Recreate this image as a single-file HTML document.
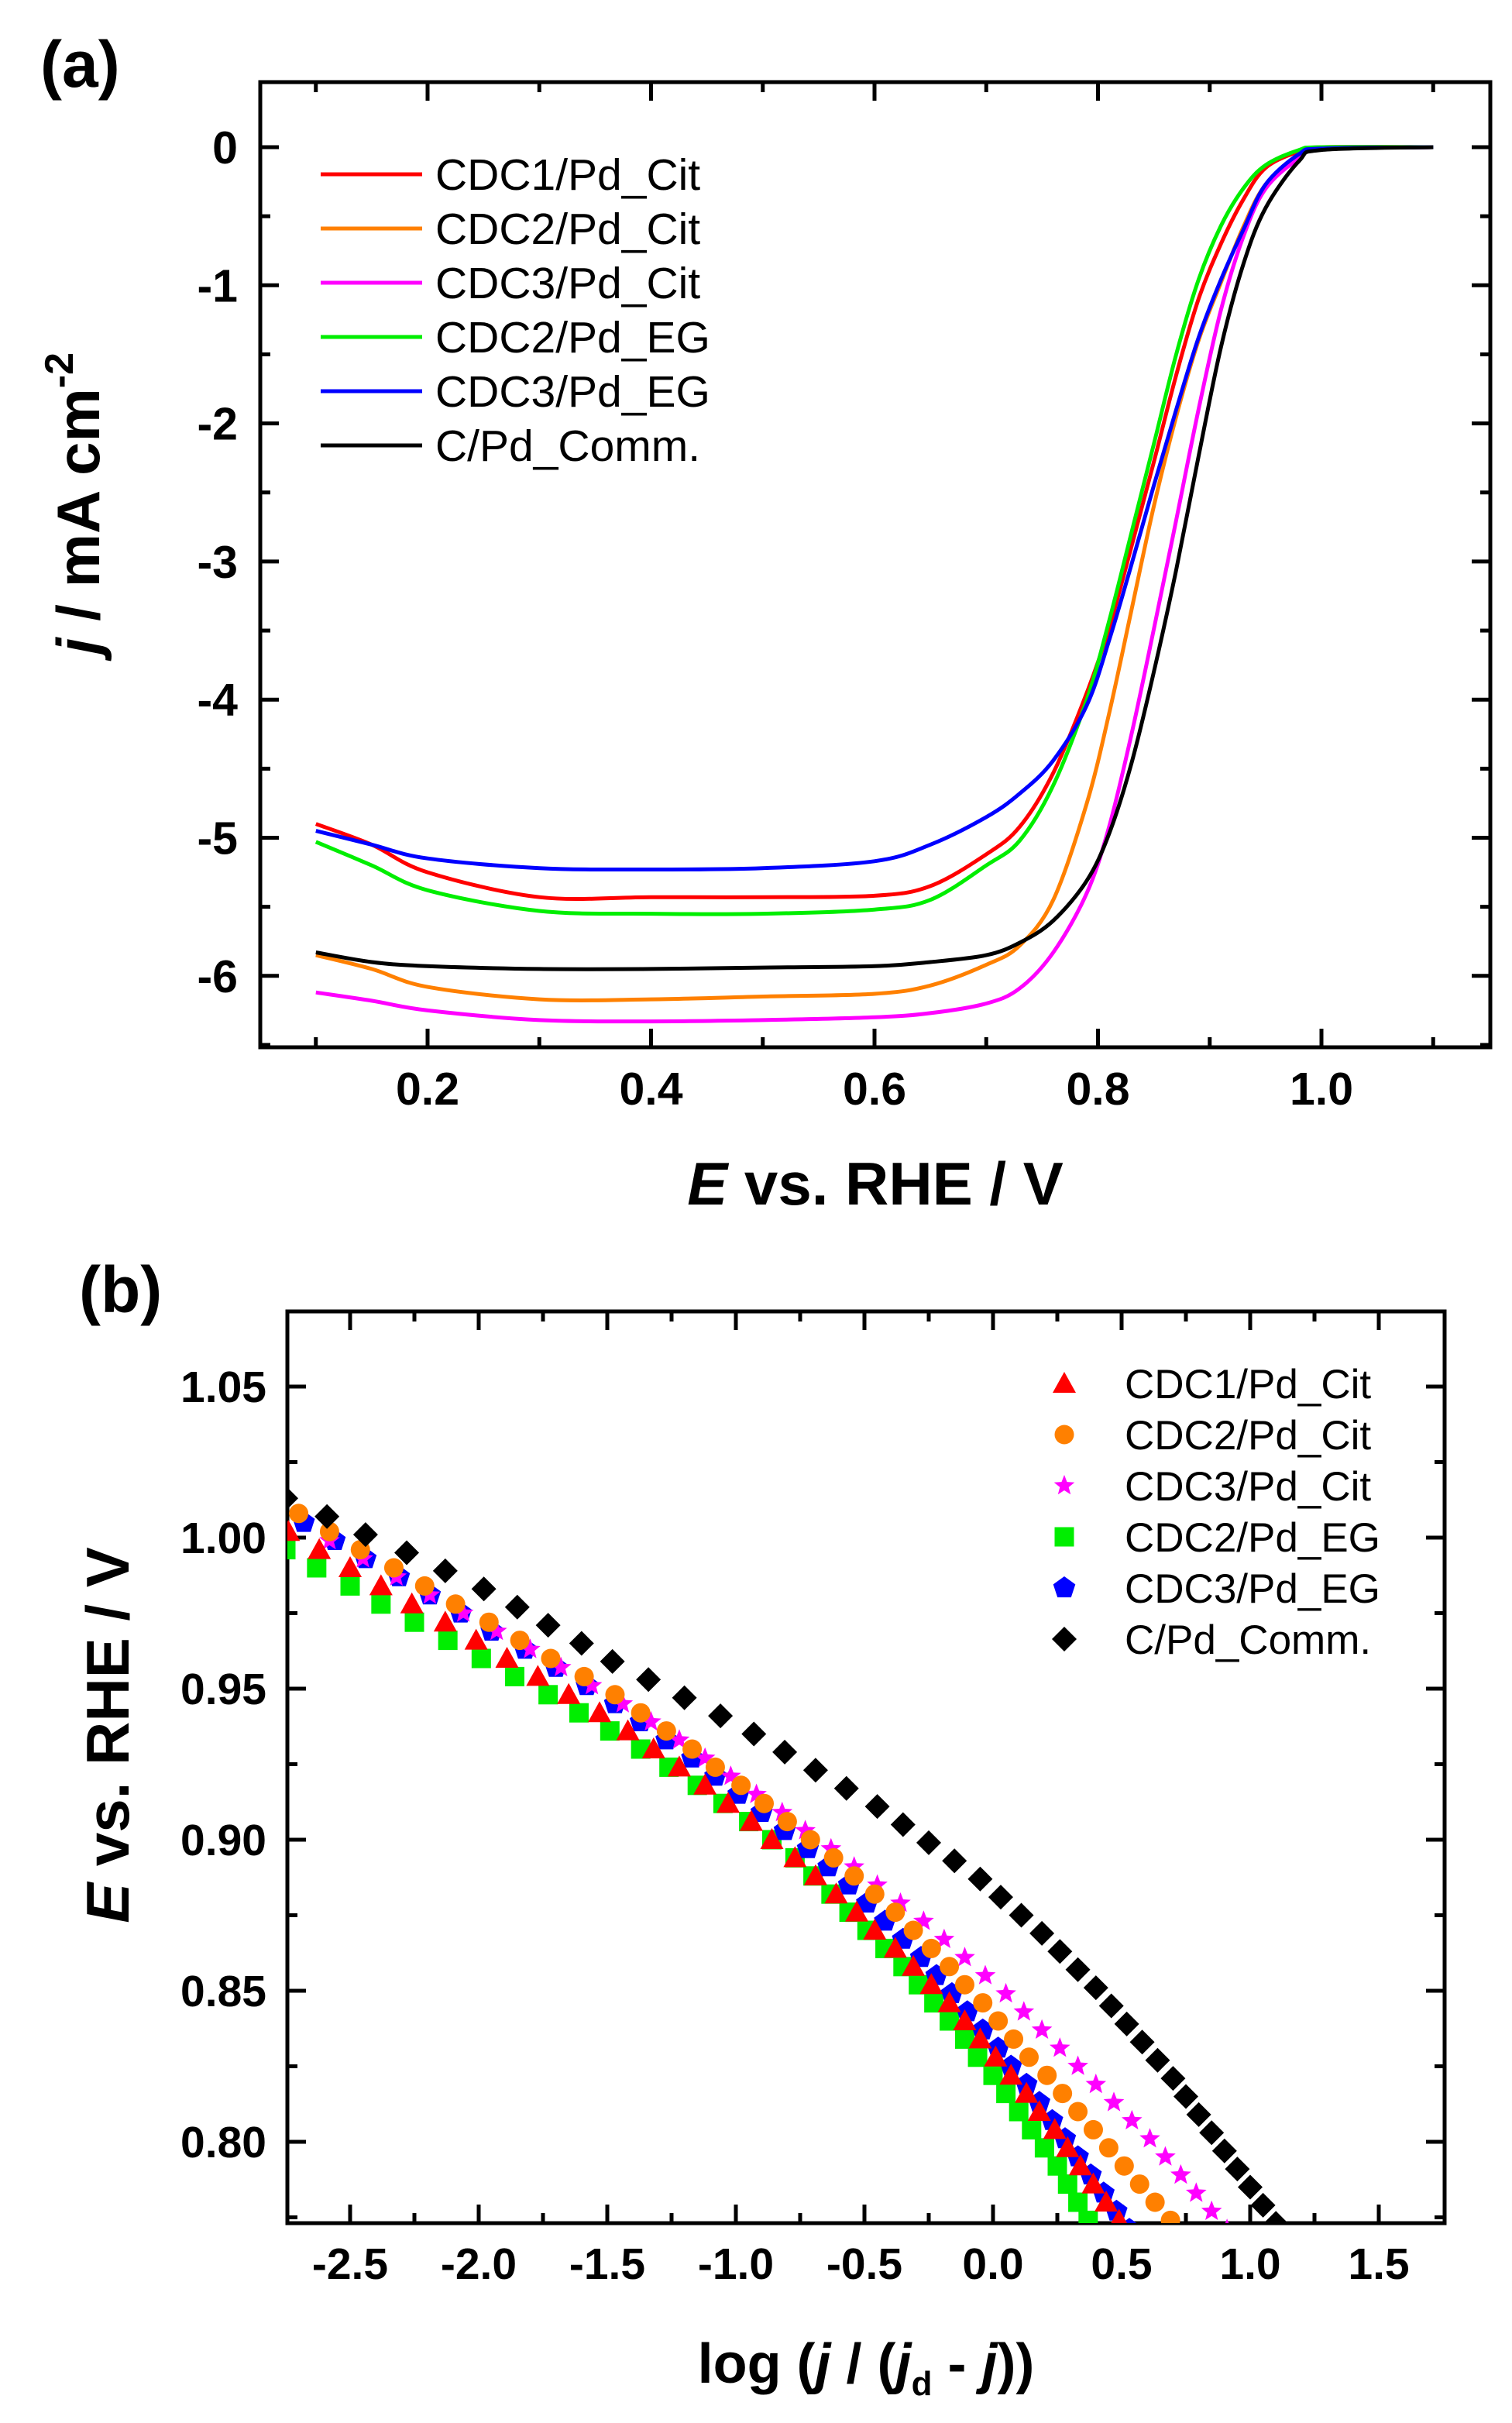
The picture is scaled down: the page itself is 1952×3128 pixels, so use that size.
<!DOCTYPE html>
<html><head><meta charset="utf-8">
<style>
html,body{margin:0;padding:0;background:#fff;}
svg{display:block;font-family:"Liberation Sans",Arial,sans-serif;}
</style></head>
<body>
<svg id="fig" width="1952" height="3128" viewBox="0 0 1952 3128" xmlns="http://www.w3.org/2000/svg">
<rect x="0" y="0" width="1952" height="3128" fill="#ffffff"/>
<g id="pa"></g>
<g id="pb"></g>
</svg>
<script>
// ---------- Panel (a) data ----------
const aE = [0.1,0.15,0.2,0.3,0.4,0.5,0.6,0.65,0.7,0.73,0.76,0.79,0.81,0.83,0.85,0.87,0.89,0.91,0.93,0.95,0.98,1.0,1.1];
const aRed =     [-4.9,-5.05,-5.25,-5.43,-5.43,-5.43,-5.42,-5.35,-5.12,-4.92,-4.53,-3.95,-3.48,-2.89,-2.28,-1.65,-1.1,-0.7,-0.38,-0.15,-0.03,0,0];
const aOrange =  [-5.85,-5.95,-6.08,-6.17,-6.17,-6.15,-6.13,-6.07,-5.92,-5.78,-5.45,-4.75,-4.1,-3.35,-2.6,-1.95,-1.4,-0.98,-0.58,-0.27,-0.06,-0.01,0];
const aMagenta = [-6.12,-6.18,-6.25,-6.32,-6.33,-6.32,-6.3,-6.27,-6.2,-6.09,-5.83,-5.4,-4.92,-4.25,-3.49,-2.7,-1.9,-1.18,-0.65,-0.3,-0.08,-0.01,0];
const aGreen =   [-5.03,-5.2,-5.38,-5.53,-5.55,-5.55,-5.52,-5.45,-5.2,-5.02,-4.62,-4.0,-3.43,-2.79,-2.15,-1.5,-0.96,-0.57,-0.3,-0.13,-0.02,0,0];
const aBlue =    [-4.95,-5.05,-5.15,-5.22,-5.23,-5.22,-5.17,-5.05,-4.85,-4.68,-4.44,-4.04,-3.57,-3.02,-2.45,-1.9,-1.38,-0.96,-0.6,-0.27,-0.05,-0.01,0];
const aBlack =   [-5.83,-5.9,-5.93,-5.95,-5.95,-5.94,-5.93,-5.9,-5.85,-5.76,-5.6,-5.31,-4.97,-4.46,-3.8,-3.06,-2.24,-1.45,-0.85,-0.44,-0.1,-0.02,0];
const aNames = ["CDC1/Pd_Cit","CDC2/Pd_Cit","CDC3/Pd_Cit","CDC2/Pd_EG","CDC3/Pd_EG","C/Pd_Comm."];
const aXTicks = ["0.2","0.4","0.6","0.8","1.0"];
const aYTicks = ["0","-1","-2","-3","-4","-5","-6"];

// ---------- Panel (b) data ----------
const bRedE = [1.002,0.996,0.990,0.984,0.978,0.972,0.966,0.960,0.954,0.948,0.942,0.936,0.930,0.924,0.918,0.912,0.906,0.900,0.894,0.888,0.882,0.876,0.870,0.864,0.858,0.852,0.846,0.840,0.834,0.828,0.822,0.816,0.810,0.804,0.798,0.792,0.786,0.780,0.774];
const bRedL = [-2.74,-2.62,-2.50,-2.38,-2.26,-2.13,-2.01,-1.89,-1.77,-1.65,-1.53,-1.42,-1.32,-1.22,-1.12,-1.03,-0.94,-0.86,-0.77,-0.69,-0.61,-0.53,-0.46,-0.38,-0.31,-0.24,-0.17,-0.11,-0.05,0.01,0.07,0.13,0.18,0.24,0.29,0.34,0.39,0.44,0.49];
const bOrangeE = [1.008,1.002,0.996,0.990,0.984,0.978,0.972,0.966,0.960,0.954,0.948,0.942,0.936,0.930,0.924,0.918,0.912,0.906,0.900,0.894,0.888,0.882,0.876,0.870,0.864,0.858,0.852,0.846,0.840,0.834,0.828,0.822,0.816,0.810,0.804,0.798,0.792,0.786,0.780,0.774,0.768];
const bOrangeL = [-2.70,-2.58,-2.46,-2.33,-2.21,-2.09,-1.96,-1.84,-1.72,-1.59,-1.47,-1.37,-1.27,-1.17,-1.08,-0.98,-0.89,-0.80,-0.71,-0.62,-0.54,-0.46,-0.38,-0.31,-0.24,-0.17,-0.11,-0.04,0.02,0.08,0.14,0.21,0.27,0.33,0.39,0.45,0.51,0.57,0.63,0.69,0.75];
const bMagentaE = [0.999,0.993,0.987,0.981,0.975,0.969,0.963,0.957,0.951,0.945,0.939,0.933,0.927,0.921,0.915,0.909,0.903,0.897,0.891,0.885,0.879,0.873,0.867,0.861,0.855,0.849,0.843,0.837,0.831,0.825,0.819,0.813,0.807,0.801,0.795,0.789,0.783,0.777,0.771];
const bMagentaL = [-2.58,-2.45,-2.32,-2.19,-2.06,-1.93,-1.80,-1.68,-1.56,-1.44,-1.33,-1.22,-1.12,-1.02,-0.92,-0.82,-0.73,-0.63,-0.54,-0.45,-0.36,-0.27,-0.19,-0.11,-0.03,0.05,0.12,0.19,0.26,0.33,0.40,0.47,0.54,0.61,0.67,0.73,0.79,0.85,0.91];
const bGreenE = [0.996,0.990,0.984,0.978,0.972,0.966,0.960,0.954,0.948,0.942,0.936,0.930,0.924,0.918,0.912,0.906,0.900,0.894,0.888,0.882,0.876,0.870,0.864,0.858,0.852,0.846,0.840,0.834,0.828,0.822,0.816,0.810,0.804,0.798,0.792,0.786,0.780,0.774];
const bGreenL = [-2.75,-2.63,-2.50,-2.38,-2.25,-2.12,-1.99,-1.86,-1.73,-1.61,-1.49,-1.37,-1.26,-1.15,-1.05,-0.95,-0.86,-0.77,-0.70,-0.63,-0.56,-0.49,-0.42,-0.35,-0.29,-0.23,-0.17,-0.11,-0.06,0.00,0.05,0.10,0.15,0.20,0.25,0.29,0.33,0.37];
const bBlueE = [1.005,0.999,0.993,0.987,0.981,0.975,0.969,0.963,0.957,0.951,0.945,0.939,0.933,0.927,0.921,0.915,0.909,0.903,0.897,0.891,0.885,0.879,0.873,0.867,0.861,0.855,0.849,0.843,0.837,0.831,0.825,0.819,0.813,0.807,0.801,0.795,0.789,0.783,0.777,0.771];
const bBlueL = [-2.68,-2.56,-2.44,-2.31,-2.19,-2.07,-1.95,-1.82,-1.70,-1.58,-1.47,-1.37,-1.27,-1.17,-1.08,-0.99,-0.90,-0.81,-0.72,-0.64,-0.56,-0.49,-0.42,-0.35,-0.28,-0.22,-0.16,-0.10,-0.04,0.02,0.07,0.13,0.18,0.23,0.28,0.33,0.38,0.43,0.48,0.53];
const bBlackE = [1.013,1.007,1.001,0.995,0.989,0.983,0.977,0.971,0.965,0.959,0.953,0.947,0.941,0.935,0.929,0.923,0.917,0.911,0.905,0.899,0.893,0.887,0.881,0.875,0.869,0.863,0.857,0.851,0.845,0.839,0.833,0.827,0.821,0.815,0.809,0.803,0.797,0.791,0.785,0.779,0.773];
const bBlackL = [-2.75,-2.59,-2.44,-2.28,-2.13,-1.98,-1.85,-1.73,-1.60,-1.48,-1.34,-1.20,-1.06,-0.93,-0.81,-0.69,-0.57,-0.45,-0.35,-0.25,-0.15,-0.05,0.03,0.11,0.19,0.26,0.33,0.40,0.46,0.52,0.58,0.64,0.70,0.75,0.80,0.85,0.90,0.95,1.00,1.05,1.10];
const bXTicks = ["-2.5","-2.0","-1.5","-1.0","-0.5","0.0","0.5","1.0","1.5"];
const bYTicks = ["1.05","1.00","0.95","0.90","0.85","0.80"];

const NS = "http://www.w3.org/2000/svg";
function mk(tag, attrs, parent){ const e=document.createElementNS(NS,tag); for(const k in attrs) e.setAttribute(k,attrs[k]); parent.appendChild(e); return e; }

// ===== Panel A =====
const pa = document.getElementById('pa');
const A = {l:336,r:1924,t:106,b:1352};
const ax = v => 552 + (v-0.2)*1442.5;
const ay = v => 190 - v*178.3;
let fa = mk('rect',{x:A.l,y:A.t,width:A.r-A.l,height:A.b-A.t,fill:'none',stroke:'#000','stroke-width':5},pa);


for(let i=0;i<11;i++){
  const v = 0.1 + i*0.1; const x = ax(v); const major = (i%2===1); const L = major?24:13;
  let t1 = mk('line',{x1:x,y1:A.b,x2:x,y2:A.b-L,stroke:'#000','stroke-width':5},pa);
   
  let t2 = mk('line',{x1:x,y1:A.t,x2:x,y2:A.t+L,stroke:'#000','stroke-width':5},pa);
   
}
aXTicks.forEach((s)=>{
  const t = mk('text',{x:ax(parseFloat(s)),y:1426,'font-size':59,'font-weight':'bold','text-anchor':'middle'},pa);
  t.textContent = s;
   
});
for(let i=0;i<=13;i++){
  const v = -i*0.5; const y = ay(v); const major = (i%2===0); const L = major?24:13;
  let t1 = mk('line',{x1:A.l,y1:y,x2:A.l+L,y2:y,stroke:'#000','stroke-width':5},pa);
   
  let t2 = mk('line',{x1:A.r,y1:y,x2:A.r-L,y2:y,stroke:'#000','stroke-width':5},pa);
   
}
aYTicks.forEach((s)=>{
  const t = mk('text',{x:307,y:ay(parseFloat(s))+21,'font-size':59,'font-weight':'bold','text-anchor':'end'},pa);
  t.textContent = s;
   
});
function smoothPath(pts){
  let d = 'M'+pts[0][0].toFixed(1)+','+pts[0][1].toFixed(1);
  for(let i=0;i<pts.length-1;i++){
    const p0=pts[Math.max(0,i-1)],p1=pts[i],p2=pts[i+1],p3=pts[Math.min(pts.length-1,i+2)];
    const c1=[p1[0]+(p2[0]-p0[0])/6,p1[1]+(p2[1]-p0[1])/6];
    const c2=[p2[0]-(p3[0]-p1[0])/6,p2[1]-(p3[1]-p1[1])/6];
    d+=' C'+c1[0].toFixed(1)+','+c1[1].toFixed(1)+' '+c2[0].toFixed(1)+','+c2[1].toFixed(1)+' '+p2[0].toFixed(1)+','+p2[1].toFixed(1);
  }
  return d;
}
const aSeries = [
  {v:aRed,c:'#ff0000',n:'curve-cdc1-pd-cit'},
  {v:aOrange,c:'#ff8000',n:'curve-cdc2-pd-cit'},
  {v:aMagenta,c:'#ff00ff',n:'curve-cdc3-pd-cit'},
  {v:aGreen,c:'#00ee00',n:'curve-cdc2-pd-eg'},
  {v:aBlue,c:'#0000ff',n:'curve-cdc3-pd-eg'},
  {v:aBlack,c:'#000000',n:'curve-c-pd-comm'}
];
aSeries.forEach(s=>{
  const pts = aE.map((e,i)=>[ax(e),ay(s.v[i])]);
  const p = mk('path',{d:smoothPath(pts),fill:'none',stroke:s.c,'stroke-width':5,'stroke-linejoin':'round'},pa);
  
  
});
aSeries.forEach((s,i)=>{
  const y = 225 + i*70;
  const g = mk('g',{},pa);
  
  
  mk('line',{x1:414,y1:y,x2:545,y2:y,stroke:s.c,'stroke-width':5},g);
  const t = mk('text',{x:562,y:y+20,'font-size':57},g);
  t.textContent = aNames[i];
});
let la = mk('text',{x:52,y:112,'font-size':84,'font-weight':'bold'},pa);
la.textContent='(a)';
 
let xta = mk('text',{x:1130,y:1555,'font-size':78,'font-weight':'bold','text-anchor':'middle'},pa);
xta.innerHTML='<tspan font-style="italic">E</tspan> vs. RHE / V';
 
let yta = mk('text',{x:0,y:0,'font-size':78,'font-weight':'bold','text-anchor':'middle',transform:'translate(128,650) rotate(-90)'},pa);
yta.innerHTML='<tspan font-style="italic">j</tspan> / mA cm<tspan font-size="52" dy="-34">-2</tspan>';
 

// ===== Panel B =====
const pb = document.getElementById('pb');
const B = {l:371,r:1865,t:1693,b:2870};
const bx = v => 452 + (v+2.5)*332;
const by = v => 1790 - (v-1.05)*3900;
let fb = mk('rect',{x:B.l,y:B.t,width:B.r-B.l,height:B.b-B.t,fill:'none',stroke:'#000','stroke-width':5},pb);


for(let i=0;i<18;i++){
  const v = -2.75 + i*0.25; const x = bx(v); if(x<B.l+3||x>B.r-3) continue;
  const major = (i%2===1); const L = major?24:13;
  let t1 = mk('line',{x1:x,y1:B.b,x2:x,y2:B.b-L,stroke:'#000','stroke-width':5},pb);
   
  let t2 = mk('line',{x1:x,y1:B.t,x2:x,y2:B.t+L,stroke:'#000','stroke-width':5},pb);
   
}
bXTicks.forEach(s=>{
  const t = mk('text',{x:bx(parseFloat(s)),y:2942,'font-size':57,'font-weight':'bold','text-anchor':'middle'},pb);
  t.textContent=s;
   
});
for(let i=0;i<13;i++){
  const v = 1.075 - i*0.025; const y = by(v); if(y<B.t+3||y>B.b-3) continue;
  const major = (i%2===1); const L = major?24:13;
  let t1 = mk('line',{x1:B.l,y1:y,x2:B.l+L,y2:y,stroke:'#000','stroke-width':5},pb);
   
  let t2 = mk('line',{x1:B.r,y1:y,x2:B.r-L,y2:y,stroke:'#000','stroke-width':5},pb);
   
}
bYTicks.forEach(s=>{
  const t = mk('text',{x:344,y:by(parseFloat(s))+20,'font-size':57,'font-weight':'bold','text-anchor':'end'},pb);
  t.textContent=s;
   
});
function marker(type,x,y,c,parent){
  let e;
  if(type==='tri') e=mk('polygon',{points:`${x},${y-15} ${x+15},${y+12} ${x-15},${y+12}`,fill:c},parent);
  else if(type==='circ') e=mk('circle',{cx:x,cy:y,r:12.5,fill:c},parent);
  else if(type==='sq') e=mk('rect',{x:x-12.5,y:y-12.5,width:25,height:25,fill:c},parent);
  else if(type==='dia') e=mk('polygon',{points:`${x},${y-16} ${x+16},${y} ${x},${y+16} ${x-16},${y}`,fill:c},parent);
  else if(type==='pent'){ let p=[]; for(let k=0;k<5;k++){const a=-Math.PI/2+k*2*Math.PI/5; p.push((x+15*Math.cos(a)).toFixed(1)+','+(y+15*Math.sin(a)).toFixed(1));} e=mk('polygon',{points:p.join(' '),fill:c},parent); }
  else { let p=[]; for(let k=0;k<10;k++){const a=-Math.PI/2+k*Math.PI/5; const r=(k%2===0)?14:6; p.push((x+r*Math.cos(a)).toFixed(1)+','+(y+r*Math.sin(a)).toFixed(1));} e=mk('polygon',{points:p.join(' '),fill:c},parent); }
  return e;
}
const clip = mk('clipPath',{id:'cb'},pb);
mk('rect',{x:B.l,y:B.t,width:B.r-B.l,height:B.b-B.t},clip);
const bSeries = [
  {E:bGreenE,L:bGreenL,t:'sq',c:'#00ee00',n:'points-cdc2-pd-eg',leg:3},
  {E:bBlueE,L:bBlueL,t:'pent',c:'#0000ff',n:'points-cdc3-pd-eg',leg:4},
  {E:bMagentaE,L:bMagentaL,t:'star',c:'#ff00ff',n:'points-cdc3-pd-cit',leg:2},
  {E:bOrangeE,L:bOrangeL,t:'circ',c:'#ff8000',n:'points-cdc2-pd-cit',leg:1},
  {E:bRedE,L:bRedL,t:'tri',c:'#ff0000',n:'points-cdc1-pd-cit',leg:0},
  {E:bBlackE,L:bBlackL,t:'dia',c:'#000000',n:'points-c-pd-comm',leg:5}
];
bSeries.forEach(s=>{
  const g = mk('g',{'clip-path':'url(#cb)'},pb);
  
  
  s.E.forEach((e,i)=>{
    const m = marker(s.t,bx(s.L[i]),by(e),s.c,g);
    
    
  });
});
bSeries.forEach(s=>{
  const y = 1786 + s.leg*66;
  const g = mk('g',{},pb);
  
  
  marker(s.t,1374,y,s.c,g);
  const t = mk('text',{x:1452,y:y+19,'font-size':53},g);
  t.textContent = aNames[s.leg];
});
let lb = mk('text',{x:102,y:1694,'font-size':84,'font-weight':'bold'},pb);
lb.textContent='(b)';
 
let xtb = mk('text',{x:1118,y:3076,'font-size':72,'font-weight':'bold','text-anchor':'middle'},pb);
xtb.innerHTML='log (<tspan font-style="italic">j</tspan> / (<tspan font-style="italic">j</tspan><tspan font-size="44" dy="16">d</tspan><tspan dy="-16"> - </tspan><tspan font-style="italic">j</tspan>))';
 
let ytb = mk('text',{x:0,y:0,'font-size':78,'font-weight':'bold','text-anchor':'middle',transform:'translate(166,2240) rotate(-90)'},pb);
ytb.innerHTML='<tspan font-style="italic">E</tspan> vs. RHE / V';
 
</script>
</body></html>
